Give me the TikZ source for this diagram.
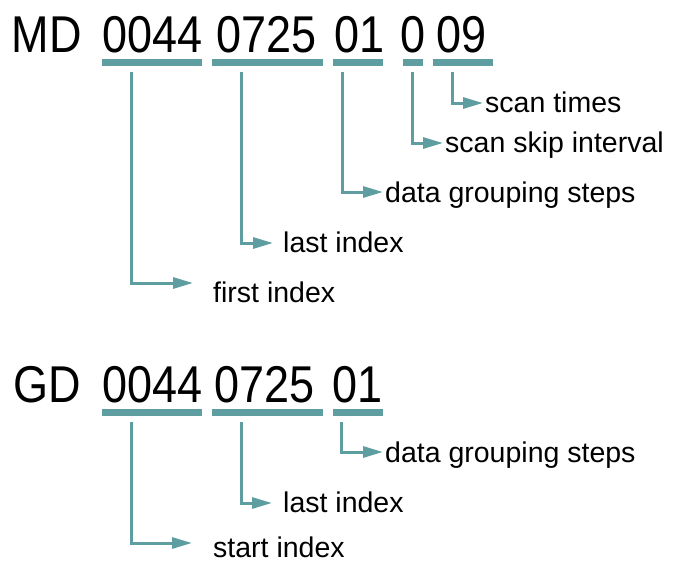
\documentclass[tikz,border=0pt]{standalone}
\usepackage{fontspec}
\setmainfont{Liberation Sans}
\usetikzlibrary{arrows.meta}
\definecolor{teal}{RGB}{95,158,160}
\tikzset{
  code/.style={anchor=base west, inner sep=0pt, font=\fontsize{45}{45}\selectfont},
  bar/.style={fill=teal, inner sep=0pt, minimum height=7pt},
  lbl/.style={anchor=base west, inner sep=0pt, font=\fontsize{28.5}{28.5}\selectfont},
  link/.style={draw=teal, line width=3pt, -{Triangle[length=20pt,width=11pt]}}
}

\begin{document}
\begin{tikzpicture}[x=1pt,y=-1pt]
\useasboundingbox (0,0) rectangle (673,563);

% MD code
\node[code] (mdA) at (11.5,52) {\scalebox{1}[1.15]{MD}};
\node[code] (mdB) at (102,52) {\scalebox{1}[1.15]{0044}};
\node[code] (mdC) at (216,52) {\scalebox{1}[1.15]{0725}};
\node[code] (mdD) at (334,52) {\scalebox{1}[1.15]{01}};
\node[code] (mdE) at (400,52) {\scalebox{1}[1.15]{0}};
\node[code] (mdF) at (436,52) {\scalebox{1}[1.15]{09}};

\node[bar, minimum width=100pt] (m1) at (152,62.5) {};
\node[bar, minimum width=111pt] (m2) at (267.5,62.5) {};
\node[bar, minimum width=50pt] (m3) at (358,62.5) {};
\node[bar, minimum width=20pt] (m4) at (413,62.5) {};
\node[bar, minimum width=60pt] (m5) at (463,62.5) {};

\node[lbl] (first) at (213,302) {first index};
\node[lbl] (mlast) at (283,252) {last index};
\node[lbl] (mgroup) at (385,202) {data grouping steps};
\node[lbl] (skip) at (445,152) {scan skip interval};
\node[lbl] (times) at (485,112) {scan times};

\draw[link] ([xshift=30pt,yshift=-6pt]m1.south west) |- ([xshift=-20pt,yshift=19pt]first.base west);
\draw[link] ([xshift=30pt,yshift=-6pt]m2.south west) |- ([xshift=-10pt,yshift=9pt]mlast.base west);
\draw[link] ([xshift=10pt,yshift=-6pt]m3.south west) |- ([xshift=-2pt,yshift=10pt]mgroup.base west);
\draw[link] ([xshift=10pt,yshift=-6pt]m4.south west) |- ([xshift=-2pt,yshift=9pt]skip.base west);
\draw[link] ([xshift=20pt,yshift=-6pt]m5.south west) |- ([xshift=-2pt,yshift=9pt]times.base west);

% GD code
\node[code] (gdA) at (13,402) {\scalebox{1}[1.15]{GD}};
\node[code] (gdB) at (102,402) {\scalebox{1}[1.15]{0044}};
\node[code] (gdC) at (214,402) {\scalebox{1}[1.15]{0725}};
\node[code] (gdD) at (332,402) {\scalebox{1}[1.15]{01}};

\node[bar, minimum width=100pt] (g1) at (152,412.5) {};
\node[bar, minimum width=111pt] (g2) at (267.5,412.5) {};
\node[bar, minimum width=50pt] (g3) at (358,412.5) {};

\node[lbl] (start) at (213,557) {start index};
\node[lbl] (glast) at (283,512) {last index};
\node[lbl] (ggroup) at (385,462) {data grouping steps};

\draw[link] ([xshift=30pt,yshift=-6pt]g1.south west) |- ([xshift=-21pt,yshift=14pt]start.base west);
\draw[link] ([xshift=30pt,yshift=-6pt]g2.south west) |- ([xshift=-11pt,yshift=9pt]glast.base west);
\draw[link] ([xshift=9pt,yshift=-6pt]g3.south west) |- ([xshift=-2pt,yshift=10pt]ggroup.base west);
\end{tikzpicture}
\end{document}
